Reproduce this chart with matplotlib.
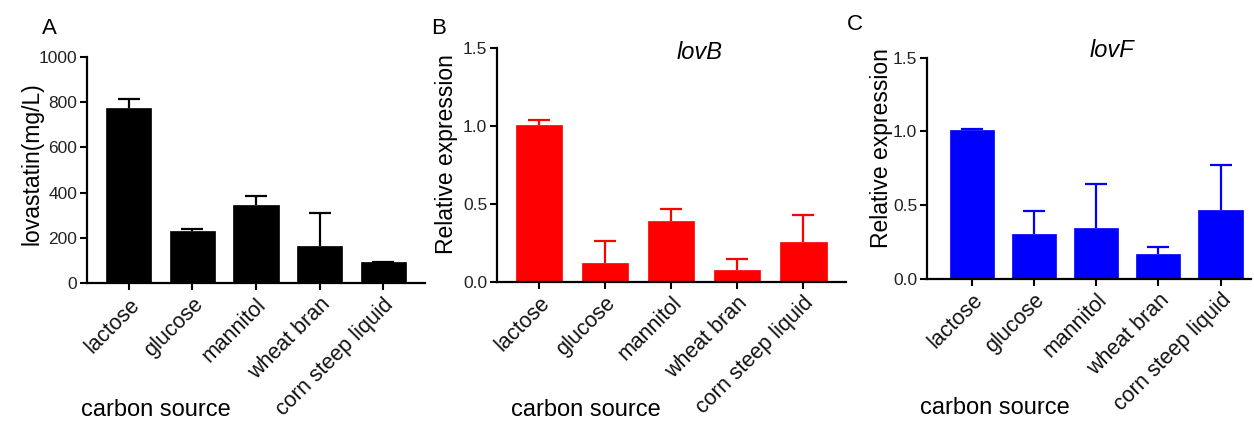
import matplotlib
matplotlib.use("Agg")
import matplotlib.pyplot as plt
import numpy as np

plt.rcParams['font.family'] = ['Liberation Sans', 'DejaVu Sans']

categories = ["lactose", "glucose", "mannitol", "wheat bran", "corn steep liquid"]

lovastatin_mean = [773, 232, 346, 164, 91]
lovastatin_err = [39, 7, 38, 144, 3]

lovB_mean = [1.004, 0.118, 0.387, 0.075, 0.254]
lovB_err = [0.032, 0.145, 0.077, 0.072, 0.172]

lovF_mean = [1.007, 0.301, 0.346, 0.166, 0.464]
lovF_err = [0.011, 0.159, 0.297, 0.047, 0.308]

W, H = 1254, 421
fig = plt.figure(figsize=(W / 100, H / 100), dpi=100)


def px_axes(left, right, top, bottom):
    return fig.add_axes([left / W, 1 - bottom / H, (right - left) / W, (bottom - top) / H])


def panel(ax, means, errs, color, ylim, yticks, yticklabels, xlim, ylabel):
    x = np.arange(len(categories))
    ax.bar(x, means, width=0.71, color=color, edgecolor=color, linewidth=0.5, zorder=2)
    eb = ax.errorbar(x, means, yerr=[np.zeros(len(means)), errs], fmt='none',
                     ecolor=color, elinewidth=1.6, capsize=8, capthick=1.6, zorder=3)
    # only upper error bars (drop the lower cap)
    eb[1][0].set_visible(False)
    ax.set_xlim(*xlim)
    ax.set_ylim(*ylim)
    ax.set_yticks(yticks)
    ax.set_yticklabels(yticklabels, fontsize=12.5)
    ax.set_xticks(x)
    ax.set_xticklabels(categories, rotation=45, ha='right', rotation_mode='anchor', fontsize=15.5)
    for s in ['top', 'right']:
        ax.spines[s].set_visible(False)
    for s in ['left', 'bottom']:
        ax.spines[s].set_linewidth(1.6)
        ax.spines[s].set_color('black')
    ax.tick_params(axis='both', direction='out', length=5, width=1.5, colors='black')
    ax.tick_params(axis='y', pad=2, labelcolor='#222222')
    ax.tick_params(axis='x', pad=3, labelcolor='#111111')
    ax.set_ylabel(ylabel, fontsize=16.5)
    ax.patch.set_alpha(0)


axA = px_axes(87, 425, 57, 283)
panel(axA, lovastatin_mean, lovastatin_err, 'black', (0, 1000),
      [0, 200, 400, 600, 800, 1000], ['0', '200', '400', '600', '800', '1000'],
      (-0.66, 4.66), 'lovastatin(mg/L)')
axA.yaxis.set_label_coords(-0.13, 0.53)

axB = px_axes(497, 846, 47.7, 281.7)
panel(axB, lovB_mean, lovB_err, '#FF0000', (0, 1.5),
      [0, 0.5, 1.0, 1.5], ['0.0', '0.5', '1.0', '1.5'],
      (-0.636, 4.65), 'Relative expression')
axB.yaxis.set_label_coords(-0.112, 0.545)
axB.text(0.58, 1.03, 'lovB', transform=axB.transAxes, fontsize=17, style='italic',
         ha='center', va='top')

axC = px_axes(927, 1251, 57.7, 278.7)
panel(axC, lovF_mean, lovF_err, '#0000FF', (0, 1.5),
      [0, 0.5, 1.0, 1.5], ['0.0', '0.5', '1.0', '1.5'],
      (-0.72, 4.49), 'Relative expression')
axC.yaxis.set_label_coords(-0.105, 0.59)
axC.text(0.57, 1.085, 'lovF', transform=axC.transAxes, fontsize=17, style='italic',
         ha='center', va='top')

fig.text(42 / W, 1 - 29 / H, 'A', fontsize=16, ha='left', va='center')
fig.text(431 / W, 1 - 28 / H, 'B', fontsize=16, ha='left', va='center')
fig.text(847 / W, 1 - 25 / H, 'C', fontsize=16, ha='left', va='center')

for xc, yc in [(156, 410), (586, 410), (995, 408)]:
    fig.text(xc / W, 1 - yc / H, 'carbon source', fontsize=17, ha='center', va='center')

fig.savefig('out.png', dpi=100)
